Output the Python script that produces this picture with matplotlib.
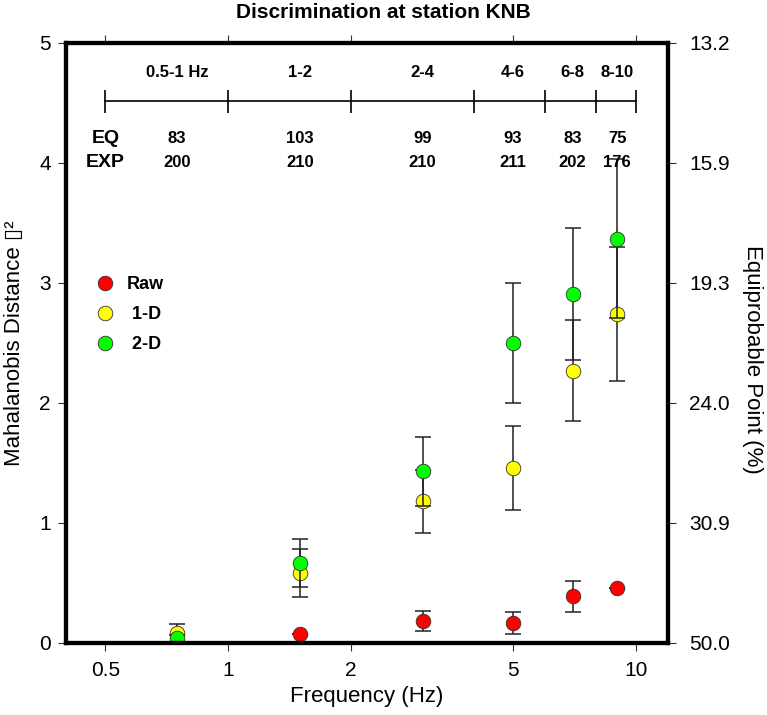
"""Discrimination at station KNB - Mahalanobis distance vs frequency."""
import matplotlib
matplotlib.use('Agg')
import matplotlib.pyplot as plt

plt.rcParams['font.family'] = ['Liberation Sans', 'DejaVu Sans']

# ---- data ----
freq = [0.75, 1.5, 3, 5, 7, 9]
raw_d = [0.01, 0.075, 0.185, 0.165, 0.39, 0.46]
raw_err = [0.0, 0.0, 0.085, 0.09, 0.13, 0.0]
d1_d = [0.08, 0.58, 1.18, 1.46, 2.27, 2.74]
d1_err = [0.08, 0.2, 0.26, 0.35, 0.42, 0.56]
d2_d = [0.04, 0.67, 1.43, 2.5, 2.91, 3.37]
d2_err = [0.03, 0.2, 0.29, 0.5, 0.55, 0.66]

bin_edges = [0.5, 1, 2, 4, 6, 8, 10]
bin_labels = ['0.5-1 Hz', '1-2', '2-4', '4-6', '6-8', '8-10']
eq_counts = [83, 103, 99, 93, 83, 75]
exp_counts = [200, 210, 210, 211, 202, 176]

xticks = [0.5, 1, 2, 5, 10]
xtick_labels = ['0.5', '1', '2', '5', '10']
yticks = [0, 1, 2, 3, 4, 5]
right_labels = ['50.0', '30.9', '24.0', '19.3', '15.9', '13.2']

fig = plt.figure(figsize=(7.67, 7.15), dpi=100)
ax = fig.add_axes([0.086, 0.1007, 0.785, 0.8392])
ax.set_xscale('log')
ax.set_xlim(0.4, 12)
ax.set_ylim(0, 5)

# series: error bars then markers, in drawing order
series = [(raw_d, raw_err, '#ff0000', 'Raw'),
          (d1_d, d1_err, '#ffff00', ' 1-D'),
          (d2_d, d2_err, '#00ff00', ' 2-D')]
handles = []
for yv, ev, col, lab in series:
    ax.errorbar(freq, yv, yerr=ev, fmt='none', ecolor='#222222',
                elinewidth=1.1, capsize=5.5, capthick=1.1)
    h, = ax.plot(freq, yv, 'o', ms=10.5, mfc=col, mec='#333333', mew=0.6,
                 label=lab)
    handles.append(h)

# frequency band bar
bar_y = 4.515
ax.plot(bin_edges, [bar_y] * len(bin_edges), color='black', lw=1.2)
ax.vlines(bin_edges, bar_y - 0.095, bar_y + 0.095, color='black', lw=1.2)
for xc, lab, neq, nexp in zip(freq, bin_labels, eq_counts, exp_counts):
    ax.text(xc, 4.75, lab, ha='center', va='center', fontsize=12, fontweight='bold')
    ax.text(xc, 4.2, str(neq), ha='center', va='center', fontsize=12, fontweight='bold')
    ax.text(xc, 4.0, str(nexp), ha='center', va='center', fontsize=12, fontweight='bold')
ax.text(bin_edges[0], 4.2, 'EQ', ha='center', va='center', fontsize=14, fontweight='bold')
ax.text(bin_edges[0], 4.0, 'EXP', ha='center', va='center', fontsize=14, fontweight='bold')

ax.legend(handles=handles, loc='center left', bbox_to_anchor=(0.05, 0.547),
          frameon=False, handlelength=1.0, handletextpad=0.7,
          labelspacing=0.72, borderpad=0, borderaxespad=0,
          prop={'weight': 'bold', 'size': 13})

ax.set_xticks(xticks)
ax.set_xticklabels(xtick_labels)
ax.xaxis.set_minor_locator(matplotlib.ticker.NullLocator())
ax.set_yticks(yticks)
ax.tick_params(direction='out', length=6, width=0.8, labelsize=15,
               top=True, labeltop=False, color='#333333')
ax.tick_params(axis='x', pad=7)
ax.tick_params(axis='y', pad=5)

ax2 = ax.twinx()
ax2.set_ylim(0, 5)
ax2.set_yticks(yticks)
ax2.set_yticklabels(right_labels)
ax2.tick_params(direction='out', length=6, width=0.8, labelsize=15,
                pad=9, color='#333333')

for a in (ax, ax2):
    for sp in a.spines.values():
        sp.set_linewidth(3)

ax.set_xlabel('Frequency (Hz)', fontsize=16)
ax.xaxis.set_label_coords(0.5, -0.072)
ax.set_ylabel('Mahalanobis Distance \u25af\u00b2', fontsize=16, va='center')
ax.yaxis.set_label_coords(-0.085, 0.5)
ax2.set_ylabel('Equiprobable Point (%)', fontsize=16, rotation=270, va='center')
ax2.yaxis.set_label_coords(1.14, 0.473)

fig.text(0.5, 0.983, 'Discrimination at station KNB', ha='center', va='center',
         fontsize=15, fontweight='bold')

fig.savefig('out.png', dpi=100, facecolor='white')
